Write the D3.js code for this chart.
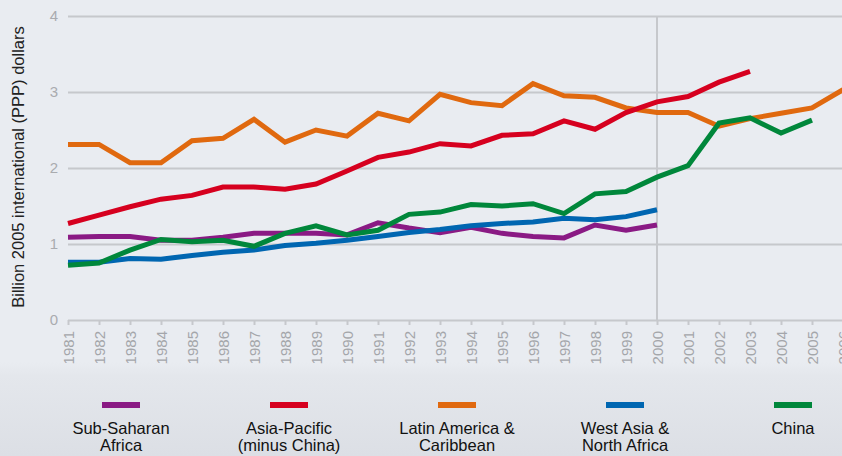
<!DOCTYPE html>
<html>
<head>
<meta charset="utf-8">
<script src="https://cdn.jsdelivr.net/npm/d3@7"></script>
<style>
  html, body { margin: 0; padding: 0; background: #e9ecf1; }
  svg { display: block; font-family: "Liberation Sans", Arial, sans-serif; }
</style>
</head>
<body>
<svg id="chart" width="842" height="456"></svg>
<script>
const years = d3.range(1981, 2007);
const yTicks = [0, 1, 2, 3, 4];

// values per year, null where the series has no data
const subSaharan = [1.09, 1.10, 1.10, 1.05, 1.05, 1.09, 1.14, 1.14, 1.14, 1.12, 1.28, 1.21, 1.15, 1.22, 1.14, 1.10, 1.08, 1.25, 1.18, 1.25, null, null, null, null, null, null];
const asiaPacific = [1.27, 1.38, 1.49, 1.59, 1.64, 1.75, 1.75, 1.72, 1.79, 1.96, 2.14, 2.21, 2.32, 2.29, 2.43, 2.45, 2.62, 2.51, 2.73, 2.87, 2.94, 3.13, 3.27, null, null, null];
const latinAmerica = [2.31, 2.31, 2.07, 2.07, 2.36, 2.39, 2.64, 2.34, 2.50, 2.42, 2.72, 2.62, 2.97, 2.86, 2.82, 3.11, 2.95, 2.93, 2.79, 2.73, 2.73, 2.55, 2.65, 2.72, 2.79, 3.03];
const westAsia = [0.76, 0.76, 0.81, 0.80, 0.85, 0.89, 0.92, 0.98, 1.01, 1.05, 1.10, 1.15, 1.19, 1.24, 1.27, 1.29, 1.34, 1.32, 1.36, 1.45, null, null, null, null, null, null];
const china = [0.72, 0.75, 0.92, 1.06, 1.03, 1.05, 0.97, 1.14, 1.24, 1.12, 1.18, 1.39, 1.42, 1.52, 1.50, 1.53, 1.40, 1.66, 1.69, 1.88, 2.03, 2.59, 2.66, 2.46, 2.63, null];

const seriesNames = [["Sub-Saharan", "Africa"], ["Asia-Pacific", "(minus China)"], ["Latin America &", "Caribbean"], ["West Asia &", "North Africa"], ["China"]];
const seriesColors = ["#8a1a84", "#d6001f", "#e0690f", "#0066b1", "#00873b"];
const seriesValues = [subSaharan, asiaPacific, latinAmerica, westAsia, china];
const drawOrder = [2, 1, 0, 3, 4];

const svg = d3.select("#chart");
const W = 842, H = 456;

// lower band behind the legend
const defs = svg.append("defs");
const grad = defs.append("linearGradient")
    .attr("id", "band").attr("x1", 0).attr("y1", 0).attr("x2", 0).attr("y2", 1);
grad.append("stop").attr("offset", 0).attr("stop-color", "#e9ecf1");
grad.append("stop").attr("offset", 0.15).attr("stop-color", "#e4e7ec");
grad.append("stop").attr("offset", 1).attr("stop-color", "#dcdfe5");
svg.append("rect").attr("x", 0).attr("y", 0).attr("width", W).attr("height", H).attr("fill", "#e9ecf1");
svg.append("rect").attr("x", 0).attr("y", 362).attr("width", W).attr("height", H - 362).attr("fill", "url(#band)");

const x = d3.scaleLinear().domain([1981, 2006]).range([68, 843]);
const y = d3.scaleLinear().domain([0, 4]).range([320, 16]);

const gridColor = "#c6c8cc";

// horizontal grid + y labels
const yAxis = svg.append("g")
    .attr("transform", "translate(68,0)")
    .call(d3.axisLeft(y).tickValues(yTicks).tickSize(-(W - 68)).tickFormat(d3.format("d")));
yAxis.select(".domain").remove();
yAxis.selectAll(".tick line").attr("stroke", gridColor).attr("stroke-width", 2);
yAxis.selectAll(".tick text")
    .attr("x", -10)
    .attr("fill", "#a9abaf")
    .attr("font-size", 15)
    .attr("font-family", "Liberation Sans, Arial, sans-serif");

// vertical line at 2000
svg.append("line")
    .attr("x1", x(2000)).attr("x2", x(2000))
    .attr("y1", y(4)).attr("y2", y(0))
    .attr("stroke", gridColor).attr("stroke-width", 2);

// x axis
const xAxis = svg.append("g")
    .attr("transform", `translate(0,${y(0)})`)
    .call(d3.axisBottom(x).tickValues(years).tickSize(5).tickFormat(d3.format("d")));
xAxis.select(".domain").remove();
xAxis.selectAll(".tick line").attr("stroke", gridColor).attr("stroke-width", 2);
xAxis.selectAll(".tick text")
    .attr("transform", "rotate(-90)")
    .attr("x", -11)
    .attr("y", 0)
    .attr("dy", "0.36em")
    .attr("text-anchor", "end")
    .attr("fill", "#a4a6aa")
    .attr("font-size", 15)
    .attr("font-family", "Liberation Sans, Arial, sans-serif");

// y axis title
svg.append("text")
    .attr("transform", `translate(24,${(y(0) + y(4)) / 2 - 1}) rotate(-90)`)
    .attr("text-anchor", "middle")
    .attr("font-size", 16.5)
    .attr("fill", "#222")
    .text("Billion 2005 international (PPP) dollars");

// lines
const line = d3.line()
    .defined(d => d[1] !== null)
    .x(d => x(d[0]))
    .y(d => y(d[1]));

svg.append("g")
    .selectAll("path")
    .data(drawOrder)
    .join("path")
    .attr("fill", "none")
    .attr("stroke", i => seriesColors[i])
    .attr("stroke-width", 5)
    .attr("stroke-linejoin", "miter")
    .attr("d", i => line(years.map((yr, j) => [yr, seriesValues[i][j]])));

// legend
const lx = d3.scaleLinear().domain([0, 4]).range([121, 793]);
const legend = svg.append("g")
    .selectAll("g")
    .data(seriesNames)
    .join("g")
    .attr("transform", (d, i) => `translate(${lx(i)},0)`);

legend.append("rect")
    .attr("x", -19).attr("y", 402)
    .attr("width", 38).attr("height", 6)
    .attr("fill", (d, i) => seriesColors[i]);

legend.append("text")
    .attr("text-anchor", "middle")
    .attr("font-size", 16.5)
    .attr("fill", "#111")
    .selectAll("tspan")
    .data(d => d)
    .join("tspan")
    .attr("x", 0)
    .attr("y", (d, k) => 434 + k * 17)
    .text(d => d);
</script>
</body>
</html>
